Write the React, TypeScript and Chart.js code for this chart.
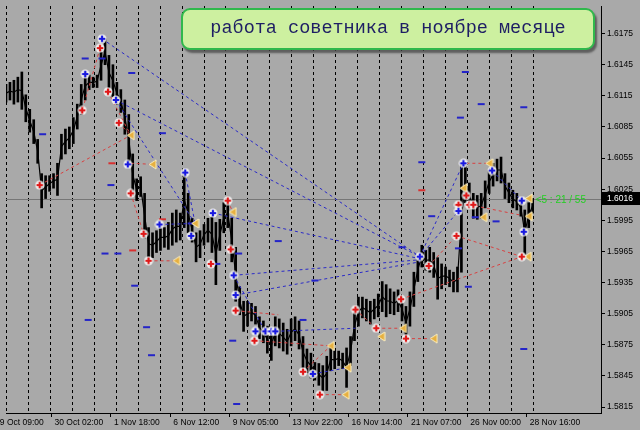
import React, { useEffect, useRef } from "react";
import { Chart, registerables } from "chart.js";

Chart.register(...registerables);

// ---------- text ----------
const TITLE = "работа советника в ноябре месяце";
const COUNTDOWN = "<5 : 21 / 55";
const COUNTDOWN_AT = 133.75; // bar position of the countdown text

// ---------- scales ----------
const Y_MIN = 1.58093;
const Y_MAX = 1.62016;
const X_MAX = 150.25; // bars visible (incl. chart shift)
const Y_TICKS = [1.5815, 1.5845, 1.5875, 1.5905, 1.5935, 1.5965, 1.5995, 1.6025, 1.6055, 1.6085, 1.6115, 1.6145, 1.6175];
const X_LABELS = ["29 Oct 09:00", "30 Oct 02:00", "1 Nov 18:00", "6 Nov 12:00", "9 Nov 05:00", "13 Nov 22:00", "16 Nov 14:00", "21 Nov 07:00", "26 Nov 00:00", "28 Nov 16:00"];
const X_LABEL_POS = [-3.5, 11.5, 26.5, 41.5, 56.5, 71.5, 86.5, 101.5, 116.5, 131.5];
const GRID_COUNT = 25;
const GRID_STEP = 5.5425;
const CURRENT_PRICE = 1.6016;

// ---------- price bars (high / low per bar) ----------
const PRICE_HIGH = [
  1.6126, 1.6128, 1.6130, 1.6133, 1.6138, 1.6116, 1.6102, 1.6092, 1.6073, 1.6040,
  1.6038, 1.6038, 1.6040, 1.6050, 1.6078, 1.6083, 1.6085, 1.6094, 1.6107, 1.6126,
  1.6138, 1.6135, 1.6133, 1.6135, 1.6159, 1.6170, 1.6154, 1.6145, 1.6128, 1.6121,
  1.6111, 1.6097, 1.6059, 1.6035, 1.6037, 1.6021, 1.5988, 1.5983, 1.5985, 1.5991,
  1.5988, 1.5993, 1.6002, 1.6005, 1.6002, 1.6042, 1.6021, 1.5997, 1.5983, 1.5985,
  1.5991, 1.5997, 1.5999, 1.5993, 1.5996, 1.6012, 1.6016, 1.5997, 1.5969, 1.5931,
  1.5917, 1.5917, 1.5915, 1.5912, 1.5902, 1.5898, 1.5893, 1.5888, 1.5902, 1.5900,
  1.5896, 1.5890, 1.5900, 1.5902, 1.5898, 1.5883, 1.5871, 1.5867, 1.5858, 1.5857,
  1.5855, 1.5864, 1.5872, 1.5869, 1.5869, 1.5867, 1.5872, 1.5883, 1.5907, 1.5921,
  1.5921, 1.5919, 1.5917, 1.5919, 1.5924, 1.5936, 1.5933, 1.5929, 1.5926, 1.5928,
  1.5921, 1.5912, 1.5926, 1.5945, 1.5959, 1.5971, 1.5966, 1.5969, 1.5964, 1.5959,
  1.5953, 1.5950, 1.5947, 1.5945, 1.5950, 1.6050, 1.6050, 1.6031, 1.6021, 1.6019,
  1.6021, 1.6033, 1.6043, 1.6050, 1.6054, 1.6056, 1.6040, 1.6031, 1.6024, 1.6021,
  1.6016, 1.6005, 1.6012, 1.6016,
];
const PRICE_LOW = [
  1.6109, 1.6111, 1.6107, 1.6109, 1.6102, 1.6090, 1.6080, 1.6069, 1.6050, 1.6007,
  1.6016, 1.6023, 1.6026, 1.6019, 1.6054, 1.6059, 1.6064, 1.6069, 1.6083, 1.6097,
  1.6111, 1.6121, 1.6123, 1.6123, 1.6130, 1.6145, 1.6121, 1.6114, 1.6107, 1.6099,
  1.6078, 1.6050, 1.6019, 1.6014, 1.6018, 1.5978, 1.5957, 1.5959, 1.5964, 1.5966,
  1.5969, 1.5967, 1.5971, 1.5974, 1.5976, 1.5988, 1.5983, 1.5974, 1.5955, 1.5959,
  1.5971, 1.5974, 1.5964, 1.5933, 1.5966, 1.5983, 1.5988, 1.5955, 1.5917, 1.5904,
  1.5888, 1.5893, 1.5898, 1.5895, 1.5881, 1.5877, 1.5867, 1.5860, 1.5874, 1.5872,
  1.5869, 1.5866, 1.5874, 1.5879, 1.5871, 1.5853, 1.5848, 1.5843, 1.5841, 1.5836,
  1.5831, 1.5831, 1.5850, 1.5852, 1.5855, 1.5852, 1.5834, 1.5855, 1.5879, 1.5893,
  1.5901, 1.5898, 1.5895, 1.5900, 1.5902, 1.5907, 1.5902, 1.5905, 1.5904, 1.5907,
  1.5898, 1.5881, 1.5893, 1.5912, 1.5936, 1.5950, 1.5947, 1.5945, 1.5940, 1.5919,
  1.5929, 1.5933, 1.5931, 1.5926, 1.5926, 1.5945, 1.6012, 1.6007, 1.5997, 1.5996,
  1.5997, 1.6007, 1.6021, 1.6028, 1.6033, 1.6031, 1.6016, 1.6012, 1.6007, 1.6005,
  1.5999, 1.5962, 1.5988, 1.6002,
];

// ---------- trade markers [bar, price] ----------
const BLUE_CROSS = [
  [24.25, 1.6170], [20, 1.6136], [27.75, 1.6111], [30.75, 1.6049], [45.25, 1.6041], [38.75, 1.5991],
  [46.75, 1.5980], [52.25, 1.6002], [57.5, 1.5942], [58, 1.5923], [63, 1.5888], [65.5, 1.5888],
  [67, 1.5888], [68, 1.5888], [77.5, 1.5847], [104.5, 1.5960], [115.5, 1.6050], [122.75, 1.6043],
  [114.25, 1.6004], [130.25, 1.6014], [130.75, 1.5984],
];
const RED_CROSS = [
  [23.75, 1.6161], [19.25, 1.6101], [25.75, 1.6119], [28.5, 1.6089], [8.5, 1.6029], [31.5, 1.6021],
  [34.75, 1.5982], [36, 1.5956], [51.75, 1.5953], [56, 1.6014], [56.75, 1.5967], [58, 1.5908],
  [62.75, 1.5879], [75, 1.5849], [79.25, 1.5827], [88.25, 1.5909], [93.5, 1.5891], [101, 1.5881],
  [99.75, 1.5919], [106.75, 1.5951], [113.75, 1.5980], [114.25, 1.6010], [116.25, 1.6019],
  [117, 1.6010], [118, 1.6010], [130.25, 1.5960],
];
const CLOSE_MARKS = [
  [31.5, 1.6077], [37, 1.6049], [43, 1.5956], [47.75, 1.5992], [57.25, 1.6003], [82, 1.5874],
  [85.75, 1.5827], [86.25, 1.5853], [94.75, 1.5883], [100.25, 1.5891], [108, 1.5881], [122, 1.6050],
  [120.5, 1.5998], [132, 1.6016], [132, 1.5999], [131.75, 1.5960], [115.5, 1.6026],
];
const BLUE_LEVELS = [
  [20, 1.6151], [24.25, 1.6151], [31.75, 1.6137], [9.25, 1.6078], [39.5, 1.6079], [26.5, 1.6029],
  [25, 1.5963], [28.25, 1.5963], [32.5, 1.5932], [46.75, 1.5992], [20.75, 1.5899], [35.5, 1.5892],
  [36.75, 1.5865], [68.75, 1.5975], [58.75, 1.5963], [53.25, 1.5953], [78, 1.5937], [100, 1.5969],
  [57.25, 1.5879], [58.25, 1.5818], [75, 1.5899], [116, 1.6138], [114.75, 1.6094], [120, 1.6107],
  [130.75, 1.6104], [107.5, 1.5999], [123.75, 1.5994], [116.75, 1.5931], [114.25, 1.5968],
  [105, 1.6051], [130.75, 1.5871], [118.5, 1.5998],
];
const RED_LEVELS = [
  [26.75, 1.6050], [32, 1.5966], [39.5, 1.5996], [105, 1.6024],
];

// ---------- trade lines [bar1, price1, bar2, price2] ----------
const RED_TRADES = [
  [8.5, 1.6029, 31.5, 1.6077], [23.75, 1.6161, 19.25, 1.6101], [25.75, 1.6119, 31.5, 1.6077],
  [28.5, 1.6089, 31.5, 1.6077], [31.5, 1.6050, 37, 1.6049], [31.5, 1.6021, 34.75, 1.5982],
  [36, 1.5956, 43, 1.5956], [56, 1.6014, 57.25, 1.6003], [58, 1.5908, 68.75, 1.5904],
  [62.75, 1.5879, 82, 1.5874], [75, 1.5849, 82, 1.5874], [79.25, 1.5827, 85.75, 1.5827],
  [88.25, 1.5909, 93.5, 1.5891], [93.5, 1.5891, 100.25, 1.5891], [101, 1.5881, 108, 1.5881],
  [99.75, 1.5919, 130.25, 1.5960], [106.75, 1.5951, 113.75, 1.5980], [113.75, 1.5980, 130.25, 1.5960],
  [117, 1.6010, 130, 1.6000], [116.25, 1.6050, 122, 1.6050],
];
const BLUE_TRADES = [
  [24.25, 1.6170, 104.5, 1.5960], [27.75, 1.6111, 104.5, 1.5960], [27.75, 1.6111, 47.75, 1.5992],
  [52.25, 1.6002, 104.5, 1.5958], [57.5, 1.5942, 104.5, 1.5957], [58, 1.5923, 104.5, 1.5955],
  [104.5, 1.5960, 115.5, 1.6050], [104.5, 1.5960, 114.25, 1.6004], [122.75, 1.6043, 130.25, 1.6014],
  [45.25, 1.6041, 47.75, 1.5992], [77.5, 1.5847, 86.25, 1.5853], [57.5, 1.5942, 65.5, 1.5888],
  [68, 1.5888, 88.25, 1.5891], [63, 1.5888, 68, 1.5888], [38.75, 1.5991, 47.75, 1.5992],
];

function makeCross(color: string) {
  const c = document.createElement("canvas");
  c.width = 10;
  c.height = 10;
  const g = c.getContext("2d")!;
  g.fillStyle = "rgba(250,250,250,0.85)";
  g.beginPath();
  g.arc(5, 5, 4.5, 0, Math.PI * 2);
  g.fill();
  g.strokeStyle = color;
  g.lineWidth = 2.2;
  g.beginPath();
  g.moveTo(1.8, 5);
  g.lineTo(8.2, 5);
  g.moveTo(5, 1.8);
  g.lineTo(5, 8.2);
  g.stroke();
  return c;
}

function makeTriangle() {
  const c = document.createElement("canvas");
  c.width = 9;
  c.height = 11;
  const g = c.getContext("2d")!;
  g.beginPath();
  g.moveTo(1, 5.5);
  g.lineTo(8, 1);
  g.lineTo(8, 10);
  g.closePath();
  g.fillStyle = "#e6b040";
  g.fill();
  g.strokeStyle = "#fff2c0";
  g.lineWidth = 1;
  g.stroke();
  return c;
}

const pts = (arr: number[][]) => arr.map(([x, y]) => ({ x, y }));

export default function App() {
  const ref = useRef<HTMLCanvasElement>(null);

  useEffect(() => {
    const canvas = ref.current!;
    const crossBlue = makeCross("#1818e0");
    const crossRed = makeCross("#e01818");
    const tri = makeTriangle();

    const datasets: any[] = [];
    datasets.push({ type: "scatter", data: pts(BLUE_CROSS), pointStyle: crossBlue, pointRadius: 5, order: 0 });
    datasets.push({ type: "scatter", data: pts(RED_CROSS), pointStyle: crossRed, pointRadius: 5, order: 0 });
    datasets.push({ type: "scatter", data: pts(CLOSE_MARKS), pointStyle: tri, pointRadius: 5, order: 0 });
    datasets.push({
      type: "scatter", data: pts(BLUE_LEVELS), pointStyle: "line", pointRadius: 3.5,
      pointBorderWidth: 2, pointBorderColor: "#2424c8", order: 1,
    });
    datasets.push({
      type: "scatter", data: pts(RED_LEVELS), pointStyle: "line", pointRadius: 3.5,
      pointBorderWidth: 2, pointBorderColor: "#d83030", order: 1,
    });
    RED_TRADES.forEach(([x1, y1, x2, y2]) =>
      datasets.push({
        type: "line", data: [{ x: x1, y: y1 }, { x: x2, y: y2 }], borderColor: "#d84040",
        borderWidth: 1, borderDash: [3, 3], pointRadius: 0, order: 2,
      })
    );
    BLUE_TRADES.forEach(([x1, y1, x2, y2]) =>
      datasets.push({
        type: "line", data: [{ x: x1, y: y1 }, { x: x2, y: y2 }], borderColor: "#2a2ac8",
        borderWidth: 1, borderDash: [3, 3], pointRadius: 0, order: 2,
      })
    );
    datasets.push({
      type: "line",
      data: PRICE_HIGH.map((h, i) => ({ x: i, y: (h + PRICE_LOW[i]) / 2 })),
      borderColor: "#000", borderWidth: 1.2, pointRadius: 0, tension: 0, order: 3,
    });
    datasets.push({
      type: "bar",
      data: PRICE_HIGH.map((h, i) => ({ x: i, y: [PRICE_LOW[i], h] })),
      backgroundColor: "#000", borderWidth: 0, barThickness: 2, order: 4,
    });

    const font = { family: "'Liberation Sans', Arial, sans-serif", size: 8.5 };

    const mtPlugin = {
      id: "mt4",
      beforeDatasetsDraw(chart: any) {
        const { ctx, chartArea: a, scales } = chart;
        const x = scales.x;
        const y = scales.y;
        ctx.save();
        ctx.beginPath();
        ctx.rect(a.left, a.top, a.right - a.left, a.bottom - a.top);
        ctx.clip();
        ctx.strokeStyle = "#000";
        ctx.lineWidth = 1;
        ctx.setLineDash([3, 3]);
        for (let k = 0; k < GRID_COUNT; k++) {
          const px = Math.round(x.getPixelForValue(k * GRID_STEP)) + 0.5;
          ctx.beginPath();
          ctx.moveTo(px, a.top);
          ctx.lineTo(px, a.bottom);
          ctx.stroke();
        }
        ctx.setLineDash([]);
        ctx.strokeStyle = "#767676";
        const py = Math.round(y.getPixelForValue(CURRENT_PRICE)) + 0.5;
        ctx.beginPath();
        ctx.moveTo(a.left, py);
        ctx.lineTo(a.right, py);
        ctx.stroke();
        ctx.restore();
      },
      afterDraw(chart: any) {
        const { ctx, chartArea: a, scales } = chart;
        const x = scales.x;
        const y = scales.y;
        const py = Math.round(y.getPixelForValue(CURRENT_PRICE));
        ctx.save();
        ctx.fillStyle = "#000";
        ctx.fillRect(a.right + 1, py - 7, 39, 13);
        ctx.fillStyle = "#fff";
        ctx.font = "8.5px 'Liberation Sans', Arial, sans-serif";
        ctx.textBaseline = "middle";
        ctx.textAlign = "left";
        ctx.fillText(CURRENT_PRICE.toFixed(4), a.right + 6, py);
        ctx.fillStyle = "#22d022";
        ctx.font = "10px 'Liberation Sans', Arial, sans-serif";
        ctx.fillText(COUNTDOWN, x.getPixelForValue(COUNTDOWN_AT), py + 1);
        ctx.restore();
      },
    };

    const chart = new Chart(canvas, {
      type: "scatter",
      data: { datasets },
      options: {
        animation: false,
        responsive: false,
        devicePixelRatio: 1,
        events: [],
        layout: { padding: 0 },
        plugins: { legend: { display: false }, tooltip: { enabled: false } },
        scales: {
          x: {
            type: "linear",
            min: 0,
            max: X_MAX,
            offset: false,
            position: "bottom",
            grid: { drawOnChartArea: false, drawTicks: true, tickLength: 4, tickColor: "#000", offset: false },
            border: { display: true, color: "#000", width: 1 },
            ticks: {
              autoSkip: false, maxRotation: 0, minRotation: 0, align: "start", labelOffset: 3,
              padding: 1, color: "#000", font,
              callback: (_v: any, i: number) => X_LABELS[i],
            },
            afterBuildTicks: (s: any) => {
              s.ticks = X_LABEL_POS.map((v) => ({ value: v }));
            },
            afterFit: (s: any) => {
              s.height = 17;
              s.paddingLeft = 0;
              s.paddingRight = 0;
            },
          },
          y: {
            type: "linear",
            position: "right",
            min: Y_MIN,
            max: Y_MAX,
            grid: { drawOnChartArea: false, drawTicks: true, tickLength: 4, tickColor: "#000" },
            border: { display: true, color: "#000", width: 1 },
            ticks: { padding: 2, color: "#000", font, callback: (v: any) => Number(v).toFixed(4) },
            afterBuildTicks: (s: any) => {
              s.ticks = Y_TICKS.map((v) => ({ value: v }));
            },
            afterFit: (s: any) => {
              s.width = 39;
              s.paddingTop = 0;
              s.paddingBottom = 0;
            },
          },
        },
      } as any,
      plugins: [mtPlugin],
    } as any);

    return () => chart.destroy();
  }, []);

  return (
    <div style={{ position: "fixed", left: 0, top: 0, width: 640, height: 430, background: "#a9a9a9", overflow: "hidden" }}>
      <canvas ref={ref} width={640} height={430} style={{ position: "absolute", left: 0, top: 0, width: 640, height: 430 }} />
      <div
        style={{
          position: "absolute", left: 181, top: 8, width: 414, height: 42, boxSizing: "border-box",
          border: "2px solid #30b84c", borderRadius: 9, background: "#cdf0a0",
          boxShadow: "2px 3px 2px rgba(70,70,70,0.75)",
          fontFamily: "'Liberation Mono', 'Courier New', monospace", fontSize: 18.5, color: "#1e1e64",
          lineHeight: "38px", textAlign: "center", whiteSpace: "nowrap",
        }}
      >
        {TITLE}
      </div>
    </div>
  );
}
